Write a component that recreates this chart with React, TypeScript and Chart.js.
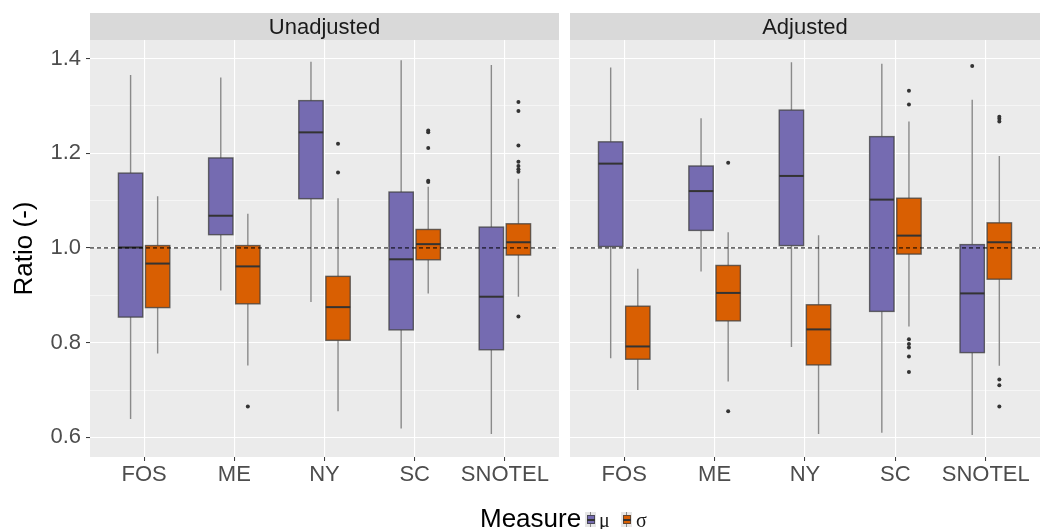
import React, { useEffect, useRef } from 'react';
import { Chart, registerables } from 'chart.js';

Chart.register(...registerables);

// ---------- data ----------
const CATEGORIES = ['FOS', 'ME', 'NY', 'SC', 'SNOTEL'];
const PANELS = ['Unadjusted', 'Adjusted'];
const MEASURES = ['μ', 'σ'];
const Y_TICKS = [0.6, 0.7, 0.8, 0.9, 1.0, 1.1, 1.2, 1.3, 1.4];
const Y_MIN = 0.5586;
const Y_MAX = 1.439;
const REF_LINE = 1.0;

// each row: [lower whisker, Q1, median, Q3, upper whisker]
const UNADJ_MU = [
  [0.639, 0.854, 1.001, 1.158, 1.365],
  [0.910, 1.028, 1.068, 1.190, 1.360],
  [0.886, 1.104, 1.244, 1.311, 1.393],
  [0.619, 0.827, 0.976, 1.118, 1.396],
  [0.607, 0.785, 0.897, 1.044, 1.386],
];
const UNADJ_MU_OUT = [[], [], [], [], []];

const UNADJ_SIGMA = [
  [0.777, 0.874, 0.967, 1.005, 1.109],
  [0.752, 0.882, 0.961, 1.005, 1.072],
  [0.655, 0.805, 0.875, 0.940, 1.105],
  [0.904, 0.975, 1.008, 1.039, 1.129],
  [0.897, 0.985, 1.012, 1.051, 1.146],
];
const UNADJ_SIGMA_OUT = [
  [],
  [0.665],
  [1.159, 1.220],
  [1.139, 1.142, 1.211, 1.244, 1.248],
  [0.855, 1.161, 1.166, 1.173, 1.182, 1.216, 1.289, 1.308],
];

const ADJ_MU = [
  [0.767, 1.003, 1.178, 1.224, 1.381],
  [0.950, 1.037, 1.120, 1.173, 1.274],
  [0.791, 1.005, 1.152, 1.291, 1.392],
  [0.610, 0.866, 1.102, 1.235, 1.389],
  [0.605, 0.779, 0.904, 1.007, 1.313],
];
const ADJ_MU_OUT = [[], [], [], [], [1.384]];

const ADJ_SIGMA = [
  [0.700, 0.765, 0.792, 0.877, 0.956],
  [0.718, 0.846, 0.905, 0.963, 1.033],
  [0.607, 0.753, 0.828, 0.880, 1.027],
  [0.834, 0.987, 1.026, 1.105, 1.267],
  [0.751, 0.934, 1.012, 1.053, 1.194],
];
const ADJ_SIGMA_OUT = [
  [],
  [0.655, 1.180],
  [],
  [0.738, 0.771, 0.790, 0.797, 0.807, 1.303, 1.332],
  [0.665, 0.710, 0.722, 1.267, 1.273, 1.277],
];

// ---------- style ----------
const FONT = "'Liberation Sans', Arial, sans-serif";
const SERIF = "'Liberation Serif', serif";
const MU_COLOR = '#756bb1';
const SIGMA_COLOR = '#d95f02';
const PANEL_BG = '#ebebeb';
const STRIP_BG = '#d9d9d9';
const DODGE = 0.15;
const BOX_WIDTH = 0.27;

Chart.defaults.font.family = FONT;

const isMajor = (v: number) => Math.abs(Math.round(v * 5) - v * 5) < 1e-6;

type Series = { stats: number[][]; out: number[][]; color: string; offset: number };

function makePlugin(title: string, series: Series[]) {
  return {
    id: 'boxplotFacet',
    beforeDraw(chart: any) {
      const { ctx, chartArea: a } = chart;
      ctx.save();
      ctx.fillStyle = PANEL_BG;
      ctx.fillRect(a.left, a.top, a.right - a.left, a.bottom - a.top);
      ctx.fillStyle = STRIP_BG;
      ctx.fillRect(a.left, 13, a.right - a.left, a.top - 13);
      ctx.fillStyle = '#1a1a1a';
      ctx.font = `22px ${FONT}`;
      ctx.textAlign = 'center';
      ctx.textBaseline = 'middle';
      ctx.fillText(title, (a.left + a.right) / 2, (13 + a.top) / 2 + 1);
      ctx.restore();
    },
    beforeDatasetsDraw(chart: any) {
      const { ctx } = chart;
      const xs = chart.scales.x;
      const ys = chart.scales.y;
      const half = xs.getPixelForValue(1 + BOX_WIDTH / 2) - xs.getPixelForValue(1);
      ctx.save();
      series.forEach((s) => {
        s.stats.forEach((st, i) => {
          const [lo, q1, md, q3, hi] = st;
          const cx = xs.getPixelForValue(i + 1 + s.offset);
          const yLo = ys.getPixelForValue(lo);
          const yQ1 = ys.getPixelForValue(q1);
          const yMd = ys.getPixelForValue(md);
          const yQ3 = ys.getPixelForValue(q3);
          const yHi = ys.getPixelForValue(hi);
          ctx.strokeStyle = '#8a8a8a';
          ctx.lineWidth = 1.4;
          ctx.beginPath();
          ctx.moveTo(cx, yHi);
          ctx.lineTo(cx, yQ3);
          ctx.moveTo(cx, yQ1);
          ctx.lineTo(cx, yLo);
          ctx.stroke();
          ctx.fillStyle = s.color;
          ctx.fillRect(cx - half, yQ3, 2 * half, yQ1 - yQ3);
          ctx.strokeStyle = 'rgba(60,60,60,0.75)';
          ctx.lineWidth = 1.4;
          ctx.strokeRect(cx - half, yQ3, 2 * half, yQ1 - yQ3);
          ctx.strokeStyle = '#333333';
          ctx.lineWidth = 2;
          ctx.beginPath();
          ctx.moveTo(cx - half, yMd);
          ctx.lineTo(cx + half, yMd);
          ctx.stroke();
        });
      });
      ctx.restore();
    },
    afterDatasetsDraw(chart: any) {
      const { ctx, chartArea: a } = chart;
      const y = chart.scales.y.getPixelForValue(REF_LINE);
      ctx.save();
      ctx.strokeStyle = '#000';
      ctx.lineWidth = 1;
      ctx.setLineDash([4, 3]);
      ctx.beginPath();
      ctx.moveTo(a.left, y);
      ctx.lineTo(a.right, y);
      ctx.stroke();
      ctx.restore();
    },
  };
}

function buildConfig(title: string, series: Series[], showY: boolean, padding: any) {
  const datasets = series.map((s) => ({
    type: 'scatter' as const,
    data: s.out.flatMap((vals, i) => vals.map((v) => ({ x: i + 1 + s.offset, y: v }))),
    pointRadius: 2,
    pointHoverRadius: 2,
    backgroundColor: '#333333',
    borderWidth: 0,
  }));
  return {
    type: 'scatter' as const,
    data: { datasets },
    plugins: [makePlugin(title, series)],
    options: {
      animation: false,
      responsive: false,
      events: [],
      layout: { padding },
      plugins: { legend: { display: false }, tooltip: { enabled: false } },
      scales: {
        x: {
          type: 'linear',
          min: 0.4,
          max: 5.6,
          afterBuildTicks: (sc: any) => {
            sc.ticks = CATEGORIES.map((_, i) => ({ value: i + 1 }));
          },
          afterFit: (sc: any) => {
            sc.height = 72;
          },
          ticks: {
            autoSkip: false,
            maxRotation: 0,
            padding: 1,
            color: '#4d4d4d',
            font: { size: 22, family: FONT },
            callback: (v: number) => CATEGORIES[Math.round(v) - 1] ?? '',
          },
          grid: {
            color: '#ffffff',
            lineWidth: 1.1,
            tickColor: '#333333',
            tickLength: 4,
            tickWidth: 1,
          },
          border: { display: false },
        },
        y: {
          type: 'linear',
          min: Y_MIN,
          max: Y_MAX,
          afterBuildTicks: (sc: any) => {
            sc.ticks = Y_TICKS.map((v) => ({ value: v }));
          },
          afterFit: (sc: any) => {
            sc.width = showY ? 90 : 0;
          },
          title: {
            display: showY,
            text: 'Ratio (-)',
            color: '#000000',
            font: { size: 26, family: FONT },
            padding: { top: 9, bottom: 0 },
          },
          ticks: {
            display: showY,
            autoSkip: false,
            padding: 5,
            color: '#4d4d4d',
            font: { size: 22, family: FONT },
            callback: (v: number) => (isMajor(v) ? v.toFixed(1) : ''),
          },
          grid: {
            color: '#ffffff',
            lineWidth: (c: any) => (c.tick && isMajor(c.tick.value) ? 1.1 : 0.5),
            tickColor: (c: any) =>
              showY && c.tick && isMajor(c.tick.value) ? '#333333' : 'rgba(0,0,0,0)',
            tickLength: 4,
            tickWidth: 1,
            drawTicks: showY,
          },
          border: { display: false },
        },
      },
    },
  };
}

function Panel(props: { title: string; series: Series[]; showY: boolean; left: number; width: number; padding: any }) {
  const ref = useRef<HTMLCanvasElement | null>(null);
  useEffect(() => {
    if (!ref.current) return;
    const chart = new Chart(ref.current, buildConfig(props.title, props.series, props.showY, props.padding) as any);
    return () => chart.destroy();
  }, []);
  return (
    <canvas
      ref={ref}
      width={props.width}
      height={529}
      style={{ position: 'absolute', left: props.left, top: 0, width: props.width, height: 529 }}
    />
  );
}

function LegendKey({ color, left }: { color: string; left: number }) {
  return (
    <div style={{ position: 'absolute', left, top: 512, width: 11, height: 15, background: '#e6e6e6' }}>
      <div style={{ position: 'absolute', left: 5, top: 0, width: 1, height: 15, background: '#8a8a8a' }} />
      <div
        style={{
          position: 'absolute',
          left: 1.5,
          top: 3,
          width: 6,
          height: 7,
          background: color,
          border: '1px solid rgba(60,60,60,0.75)',
        }}
      />
      <div style={{ position: 'absolute', left: 1.5, top: 7, width: 8, height: 1.5, background: '#333' }} />
    </div>
  );
}

export default function App() {
  const left: Series[] = [
    { stats: UNADJ_MU, out: UNADJ_MU_OUT, color: MU_COLOR, offset: -DODGE },
    { stats: UNADJ_SIGMA, out: UNADJ_SIGMA_OUT, color: SIGMA_COLOR, offset: DODGE },
  ];
  const right: Series[] = [
    { stats: ADJ_MU, out: ADJ_MU_OUT, color: MU_COLOR, offset: -DODGE },
    { stats: ADJ_SIGMA, out: ADJ_SIGMA_OUT, color: SIGMA_COLOR, offset: DODGE },
  ];
  return (
    <div style={{ position: 'absolute', left: 0, top: 0, width: 1044, height: 529, background: '#fff', overflow: 'hidden' }}>
      <Panel title={PANELS[0]} series={left} showY={true} left={0} width={564} padding={{ top: 40, right: 5, left: 0, bottom: 0 }} />
      <Panel title={PANELS[1]} series={right} showY={false} left={564} width={480} padding={{ top: 40, right: 4, left: 6, bottom: 0 }} />
      <span style={{ position: 'absolute', left: 480, top: 505, fontFamily: FONT, fontSize: 26, lineHeight: '26px', color: '#000', whiteSpace: 'nowrap' }}>
        Measure
      </span>
      <LegendKey color={MU_COLOR} left={585} />
      <span style={{ position: 'absolute', left: 599, top: 510, fontFamily: SERIF, fontSize: 20, lineHeight: '20px', color: '#1a1a1a' }}>
        {MEASURES[0]}
      </span>
      <LegendKey color={SIGMA_COLOR} left={621} />
      <span style={{ position: 'absolute', left: 636, top: 510, fontFamily: SERIF, fontSize: 20, lineHeight: '20px', color: '#1a1a1a' }}>
        {MEASURES[1]}
      </span>
    </div>
  );
}
